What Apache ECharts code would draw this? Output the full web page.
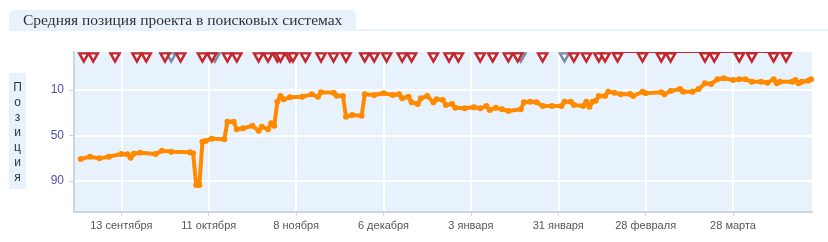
<!DOCTYPE html>
<html>
<head>
<meta charset="utf-8">
<script src="https://cdn.jsdelivr.net/npm/echarts@6/dist/echarts.min.js"></script>
<style>
html,body{margin:0;padding:0;background:#fff;}
#chart{width:828px;height:242px;}
</style>
</head>
<body>
<div id="chart"></div>
<script>
// ---- data ----
const titleText = 'Средняя позиция проекта в поисковых системах';
const yAxisName = 'Позиция';
const xTickDates = ['2010-09-13','2010-10-11','2010-11-08','2010-12-06','2011-01-03','2011-01-31','2011-02-28','2011-03-28'];
const xTickLabels = ['13 сентября','11 октября','8 ноября','6 декабря','3 января','31 января','28 февраля','28 марта'];
const yTicks = [10, 50, 90];

const dates = ['2010-08-31','2010-09-03','2010-09-06','2010-09-09','2010-09-13','2010-09-15','2010-09-16','2010-09-17','2010-09-19','2010-09-24','2010-09-26','2010-09-29','2010-10-05','2010-10-06','2010-10-07','2010-10-08','2010-10-09','2010-10-10','2010-10-12','2010-10-16','2010-10-17','2010-10-19','2010-10-20','2010-10-22','2010-10-25','2010-10-27','2010-10-28','2010-10-30','2010-10-31','2010-11-01','2010-11-02','2010-11-03','2010-11-04','2010-11-06','2010-11-10','2010-11-13','2010-11-15','2010-11-16','2010-11-20','2010-11-21','2010-11-23','2010-11-24','2010-11-26','2010-11-29','2010-11-30','2010-12-03','2010-12-06','2010-12-09','2010-12-11','2010-12-12','2010-12-14','2010-12-15','2010-12-17','2010-12-18','2010-12-20','2010-12-22','2010-12-23','2010-12-25','2010-12-26','2010-12-28','2010-12-29','2011-01-01','2011-01-04','2011-01-06','2011-01-08','2011-01-09','2011-01-11','2011-01-13','2011-01-15','2011-01-19','2011-01-20','2011-01-22','2011-01-24','2011-01-26','2011-01-29','2011-02-01','2011-02-02','2011-02-04','2011-02-05','2011-02-08','2011-02-09','2011-02-10','2011-02-11','2011-02-12','2011-02-13','2011-02-15','2011-02-16','2011-02-18','2011-02-20','2011-02-23','2011-02-24','2011-02-27','2011-02-28','2011-03-05','2011-03-06','2011-03-08','2011-03-11','2011-03-12','2011-03-15','2011-03-17','2011-03-19','2011-03-21','2011-03-23','2011-03-25','2011-03-28','2011-03-30','2011-04-01','2011-04-03','2011-04-06','2011-04-08','2011-04-10','2011-04-11','2011-04-12','2011-04-16','2011-04-17','2011-04-18','2011-04-19','2011-04-21','2011-04-22'];
const positions = [70.7,68.6,70.1,68.6,66.3,66.5,69.5,66.0,65.1,66.3,63.3,64.2,64.8,65.7,93.5,93.5,55.4,54.8,52.8,53.4,37.8,37.8,44.6,43.7,41.4,45.8,42.2,44.6,39.3,41.4,20.3,15.3,18.2,16.4,15.9,13.8,15.9,12.0,12.4,15.0,15.3,33.5,32.0,32.6,13.8,14.4,12.9,14.4,13.8,17.3,15.9,20.8,22.3,17.3,15.3,20.8,18.2,18.8,23.2,22.3,25.6,26.1,25.2,26.1,24.1,27.6,25.6,27.0,28.5,27.0,20.8,20.3,20.8,24.1,24.1,24.1,20.3,20.3,23.2,24.1,20.3,24.7,20.3,19.4,15.3,15.3,11.5,12.4,13.8,13.5,15.3,11.5,12.9,12.0,13.8,10.9,9.1,11.5,11.5,9.1,4.1,4.7,0.6,-0.3,1.2,0.6,0.6,2.7,2.7,3.6,0.6,4.1,2.7,2.7,1.2,4.1,2.7,1.8,0.6];

const redFlagDates = ['2010-09-01','2010-09-04','2010-09-11','2010-09-18','2010-09-21','2010-09-27','2010-10-02','2010-10-09','2010-10-12','2010-10-17','2010-10-20','2010-10-27','2010-10-30','2010-11-02','2010-11-03','2010-11-06','2010-11-07','2010-11-11','2010-11-16','2010-11-20','2010-11-24','2010-11-30','2010-12-03','2010-12-07','2010-12-12','2010-12-15','2010-12-22','2010-12-27','2010-12-30','2011-01-06','2011-01-10','2011-01-15','2011-01-18','2011-01-26','2011-02-05','2011-02-09','2011-02-13','2011-02-15','2011-02-19','2011-02-27','2011-03-05','2011-03-08','2011-03-19','2011-03-22','2011-03-30','2011-04-03','2011-04-10','2011-04-14'];
const greyFlagDates = ['2010-09-29','2010-10-13','2011-01-19','2011-02-02'];
const flagLineDates = ['2011-02-17','2011-04-16'];

// ---- chart ----
const DAY = 86400000;
const base = new Date('2010-09-13').getTime();
const day = s => Math.round((new Date(s).getTime() - base) / DAY);
const xMin = -15.16;
const xMax = 221.3;
const tickDays = xTickDates.map(day);

const lineData = dates.map((d, i) => [day(d), positions[i]]);
const FLAG_Y = 0.966;
const redData = redFlagDates.map(d => [day(d), FLAG_Y]);
const greyData = greyFlagDates.map(d => [day(d), FLAG_Y]);
const flagLine = flagLineDates.map(d => [day(d), 0.997]);

const chart = echarts.init(document.getElementById('chart'), null, {renderer: 'canvas'});
chart.setOption({
  animation: false,
  backgroundColor: '#ffffff',
  title: {
    text: titleText,
    left: 23, top: 13,
    padding: 0,
    textStyle: {fontFamily: 'Liberation Serif', fontSize: 15.5, fontWeight: 'normal', color: '#333'}
  },
  graphic: [
    {type: 'rect', z: -1, shape: {x: 9, y: 10, width: 347, height: 21, r: [5,5,0,0]}, style: {fill: '#e8f2fc'}},
    {type: 'rect', z: -1, shape: {x: 356, y: 29, width: 472, height: 2}, style: {fill: '#e8f2fc'}},
    {type: 'rect', z: -1, shape: {x: 9, y: 73, width: 17, height: 116}, style: {fill: '#e8f2fc'}},
    {type: 'text', x: 17.5, y: 80, style: {text: yAxisName.split('').join('\n'), fontSize: 12, lineHeight: 15.1, fontFamily: 'Liberation Sans', fill: '#333', align: 'center'}}
  ],
  grid: {left: 74, top: 52, right: 16, bottom: 30, show: true, backgroundColor: '#e8f2fc', borderWidth: 0},
  xAxis: {
    type: 'value', min: xMin, max: xMax,
    axisLine: {show: true, onZero: false, lineStyle: {color: '#ccd6e0', width: 2}},
    axisTick: {show: true, customValues: tickDays, length: 4, lineStyle: {color: '#ccd6e0'}},
    axisLabel: {customValues: tickDays, margin: 8, fontSize: 11, fontFamily: 'Liberation Sans', color: '#555',
      formatter: v => { const i = tickDays.indexOf(v); return i >= 0 ? xTickLabels[i] : ''; }},
    splitLine: {show: true, lineStyle: {color: '#ffffff', width: 2}}
  },
  yAxis: [{
    type: 'value', inverse: true, min: -23.41, max: 117.25,
    axisLine: {show: true, onZero: false, lineStyle: {color: '#ccd6e0', width: 2}},
    axisTick: {show: true, customValues: yTicks, length: 5, lineStyle: {color: '#ccd6e0'}},
    axisLabel: {customValues: yTicks, margin: 10, fontSize: 12, fontFamily: 'Liberation Sans', color: '#4f4fa6'},
    splitLine: {show: true, lineStyle: {color: '#ffffff', width: 2}}
  }, {
    type: 'value', min: 0, max: 1, show: false
  }],
  series: [
    {type: 'line', data: lineData, yAxisIndex: 0, symbol: 'circle', symbolSize: 6, showSymbol: true,
      lineStyle: {color: '#ff8a00', width: 4}, itemStyle: {color: '#ff8a00'}, z: 3},
    {type: 'line', data: flagLine, yAxisIndex: 1, symbol: 'none', clip: false,
      lineStyle: {color: '#c4262e', width: 1}, z: 4},
    {type: 'scatter', data: greyData, yAxisIndex: 1, symbol: 'triangle', symbolRotate: 180, symbolSize: [9, 8],
      itemStyle: {color: '#ffffff', borderColor: '#7b8aab', borderWidth: 2.5, opacity: 1}, z: 5},
    {type: 'scatter', data: redData, yAxisIndex: 1, symbol: 'triangle', symbolRotate: 180, symbolSize: [9, 8],
      itemStyle: {color: '#ffffff', borderColor: '#c4262e', borderWidth: 2.5, opacity: 1}, z: 6}
  ]
});
</script>
</body>
</html>
